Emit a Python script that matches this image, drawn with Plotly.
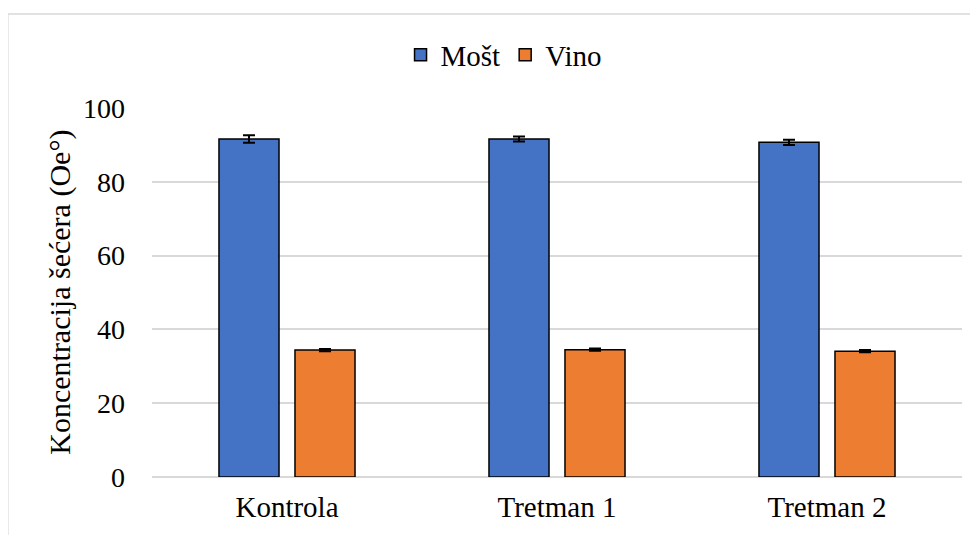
import plotly.graph_objects as go

categories = ["Kontrola", "Tretman 1", "Tretman 2"]
most_values = [91.6, 91.6, 90.7]
most_errors = [1.0, 0.7, 0.7]
vino_values = [34.4, 34.5, 34.1]
vino_errors = [0.3, 0.3, 0.3]
y_ticks = [0, 20, 40, 60, 80, 100]
y_title = "Koncentracija šećera (Oe°)"

FONT = "Liberation Serif, Times New Roman, serif"

fig = go.Figure()
fig.add_trace(go.Bar(
    name="Mošt", x=categories, y=most_values,
    marker=dict(color="#4472C4", line=dict(color="black", width=1.5)),
    error_y=dict(type="data", array=most_errors, visible=True, color="black", thickness=2, width=6),
))
fig.add_trace(go.Bar(
    name="Vino", x=categories, y=vino_values,
    marker=dict(color="#ED7D31", line=dict(color="black", width=1.5)),
    error_y=dict(type="data", array=vino_errors, visible=True, color="black", thickness=2, width=6),
))

fig.update_layout(
    width=970, height=527,
    margin=dict(l=144, r=16, t=100, b=58, autoexpand=False),
    paper_bgcolor="white", plot_bgcolor="white",
    barmode="group", bargap=0.437, bargroupgap=0.21,
    font=dict(family=FONT, color="black", size=28),
    legend=dict(orientation="h", x=0.434, xanchor="center", y=1.1436, yanchor="middle",
                font=dict(size=29, family=FONT, color="black"), itemwidth=30,
                traceorder="normal", bgcolor="rgba(0,0,0,0)"),
    showlegend=True,
    shapes=[dict(type="rect", xref="paper", yref="paper",
                 x0=-0.178, x1=1.2, y0=-0.4, y1=1.255,
                 line=dict(color="#D9D9D9", width=1.5), fillcolor="rgba(0,0,0,0)", layer="below")],
    annotations=[dict(text=y_title, textangle=-90, xref="paper", yref="paper",
                      x=-0.1145, y=0.5, xanchor="center", yanchor="middle", showarrow=False,
                      font=dict(size=30, family=FONT, color="black"))],
)
fig.update_yaxes(
    range=[0, 100], tickvals=y_ticks, showgrid=True, gridcolor="#D9D9D9", gridwidth=1.5,
    zeroline=True, zerolinecolor="#D9D9D9", zerolinewidth=1.5,
    tickfont=dict(size=28, family=FONT, color="black"), ticklabelstandoff=26,
    showline=False,
)
fig.update_xaxes(
    tickfont=dict(size=29, family=FONT, color="black"), showline=False, showgrid=False,
    ticklabelstandoff=10,
)

fig.write_html("out.html")
